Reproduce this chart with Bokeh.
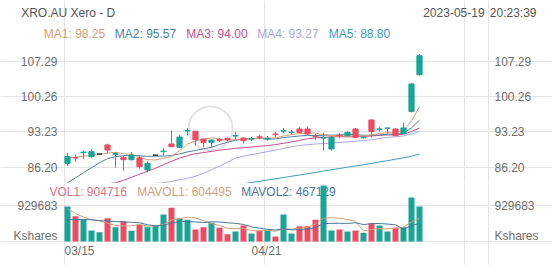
from bokeh.plotting import figure
from bokeh.layouts import column
from bokeh.models import Range1d, FixedTicker, ColumnDataSource
from bokeh.core.properties import value
from bokeh.embed import file_html
from bokeh.resources import INLINE

# ---------------- data ----------------
dates = ["03/15", "03/16", "03/17", "03/20", "03/21", "03/22", "03/23", "03/24", "03/27", "03/28",
         "03/29", "03/30", "03/31", "04/03", "04/04", "04/05", "04/06", "04/11", "04/12", "04/13",
         "04/14", "04/17", "04/18", "04/19", "04/20", "04/21", "04/24", "04/26", "04/27", "04/28",
         "05/01", "05/02", "05/03", "05/04", "05/05", "05/08", "05/09", "05/10", "05/11", "05/12",
         "05/15", "05/16", "05/17", "05/18", "05/19"]
open_ = [86.96, 88.10, 89.10, 88.30, 88.83, 90.62, 88.75, 88.15, 87.70, 88.04,
         85.65, 88.60, 89.30, 90.82, 90.15, 93.40, 93.37, 91.80, 91.14, 91.70,
         91.90, 92.40, 92.00, 91.80, 92.25, 91.85, 92.80, 93.40, 93.10, 93.81,
         93.81, 92.40, 92.00, 89.83, 92.60, 92.47, 93.81, 92.05, 95.60, 93.75,
         93.95, 93.81, 92.93, 97.31, 104.61]
high = [89.09, 88.69, 89.49, 89.70, 88.83, 90.88, 89.20, 88.40, 89.20, 88.50,
        87.30, 88.60, 90.03, 93.47, 92.60, 94.00, 93.47, 91.90, 91.67, 91.90,
        92.10, 93.27, 92.10, 92.30, 92.60, 92.40, 93.20, 94.00, 93.60, 94.20,
        94.30, 92.80, 93.07, 92.40, 93.00, 93.30, 94.00, 92.30, 95.70, 94.20,
        94.03, 93.90, 95.06, 102.88, 108.73]
low = [86.50, 87.30, 87.90, 88.10, 88.83, 88.95, 86.10, 85.50, 87.50, 85.90,
       85.17, 88.60, 88.50, 90.28, 90.00, 92.50, 90.50, 90.10, 90.10, 91.20,
       91.40, 91.68, 90.88, 91.40, 91.70, 91.50, 92.20, 93.00, 92.70, 93.00,
       92.60, 91.70, 89.49, 89.49, 92.00, 92.30, 92.00, 91.90, 92.14, 93.30,
       92.85, 92.40, 92.80, 97.10, 104.40]
close = [88.29, 88.04, 89.20, 89.29, 88.83, 89.63, 88.90, 87.70, 88.63, 86.30,
         86.96, 88.60, 89.40, 90.28, 92.20, 93.50, 91.68, 91.14, 91.60, 91.55,
         91.70, 92.50, 91.48, 91.88, 92.14, 91.94, 92.67, 93.47, 93.17, 93.13,
         92.81, 92.27, 92.07, 92.14, 92.47, 93.13, 92.14, 92.14, 93.33, 93.81,
         94.00, 92.47, 94.01, 102.76, 108.39]
volume = [905000, 654000, 568000, 284000, 241000, 602000, 370000, 525000, 275000, 430000,
          370000, 413000, 697000, 869000, 602000, 560000, 310000, 370000, 482000, 353000,
          189000, 258000, 413000, 207000, 284000, 284000, 129000, 697000, 207000, 396000,
          396000, 560000, 1446000, 284000, 310000, 258000, 284000, 224000, 469000, 413000,
          258000, 353000, 370000, 1137000, 904716]
ma1 = [88.00, 88.20, 88.40, 88.60, 88.73, 89.00, 89.17, 88.87, 88.74, 88.23,
       87.70, 87.64, 87.98, 88.31, 89.49, 90.80, 91.41, 91.76, 92.02, 91.89,
       91.53, 91.70, 91.77, 91.82, 91.94, 91.99, 92.02, 92.42, 92.68, 92.88,
       93.05, 92.97, 92.69, 92.48, 92.35, 92.42, 92.39, 92.40, 92.64, 92.91,
       93.08, 93.15, 93.52, 95.41, 98.25]
ma2 = [83.10, 84.10, 85.10, 86.10, 87.10, 87.90, 88.30, 88.50, 88.60, 88.48,
       88.35, 88.40, 88.42, 88.52, 88.86, 89.25, 89.53, 89.87, 90.17, 90.69,
       91.17, 91.56, 91.76, 91.92, 91.92, 91.76, 91.86, 92.09, 92.25, 92.41,
       92.52, 92.50, 92.56, 92.58, 92.61, 92.73, 92.68, 92.55, 92.56, 92.63,
       92.75, 92.77, 92.96, 94.03, 95.57]
ma3 = [81.20, 81.60, 82.00, 82.40, 82.70, 82.90, 83.10, 83.60, 84.20, 84.80,
       85.40, 86.00, 86.70, 87.40, 88.00, 88.50, 88.90, 89.10, 89.35, 89.59,
       89.76, 89.98, 90.09, 90.22, 90.39, 90.50, 90.69, 90.98, 91.21, 91.55,
       91.84, 92.03, 92.16, 92.25, 92.27, 92.25, 92.27, 92.32, 92.41, 92.52,
       92.63, 92.63, 92.76, 93.30, 94.00]
ma4 = [78.50, 78.90, 79.30, 79.70, 80.10, 80.50, 80.90, 81.40, 81.90, 82.40,
       82.80, 83.00, 83.10, 83.40, 83.70, 84.00, 84.40, 85.00, 85.70, 86.40,
       87.20, 88.00, 88.40, 88.70, 89.00, 89.30, 89.60, 89.95, 90.25, 90.53,
       90.68, 90.82, 90.91, 91.01, 91.13, 91.25, 91.36, 91.50, 91.66, 91.91,
       92.14, 92.27, 92.43, 92.84, 93.27]
ma5 = [77.60, 77.85, 78.10, 78.35, 78.60, 78.85, 79.10, 79.35, 79.60, 79.85,
       80.10, 80.35, 80.60, 80.85, 81.10, 81.35, 81.60, 81.85, 82.00, 82.20,
       82.40, 82.65, 82.90, 83.15, 83.40, 83.65, 83.90, 84.15, 84.40, 84.65,
       84.90, 85.15, 85.45, 85.70, 85.95, 86.20, 86.45, 86.70, 86.95, 87.25,
       87.50, 87.80, 88.05, 88.40, 88.80]
mavol1 = [850000, 720000, 630000, 560000, 530400, 469800, 413000, 404400, 402600, 440400,
          394000, 402600, 437000, 555800, 590200, 628200, 607600, 542200, 464800, 415000,
          340800, 330400, 339000, 284000, 270200, 289200, 263400, 320200, 320200, 342600,
          365000, 451200, 601000, 616400, 599200, 571600, 516400, 272000, 309000, 329600,
          329600, 343400, 372600, 506200, 604495]
mavol2 = [560000, 565000, 570000, 560000, 540000, 530000, 515000, 505000, 495000, 485400,
          431900, 407800, 420700, 479200, 515300, 511100, 505100, 489600, 510300, 502600,
          484500, 469000, 440600, 374400, 342600, 315000, 296900, 329600, 302100, 306400,
          327100, 357300, 460600, 468300, 470900, 468300, 483800, 436500, 462700, 464400,
          450600, 429900, 322300, 407600, 467129]
price_ticks = [86.20, 93.23, 100.26, 107.29]
vol_tick = 929683
date_labels = ["03/15", "04/21"]
title_text = "XRO.AU Xero - D"
stamp_date = "2023-05-19"
stamp_time = "20:23:39"

# ---------------- styles / layout (pixels) ----------------
UP = "#17a596"
DOWN = "#ef4a62"
FLAT = "#333333"
C_MA = ["#d4a07c", "#4f7fa3", "#c2508e", "#aaa6df", "#3c9cbb"]
C_VOL = "#e8707e"
C_MAVOL1 = "#d4a07c"
C_MAVOL2 = "#4a7896"
GRID = "#e4e4e4"
TXT = "#6e6e6e"
HEAD = "#555555"
FONT = "Liberation Sans"
FS = "12px"

W, HA, HB = 552, 183, 82
X0, DX = 67.0, 8.0              # pixel of first candle, pixels per candle
FRAME_L, FRAME_R, FRAME_T, VOL_BASE = 64, 488, 25, 241
P_TOP = 119.37                  # price at the top edge of the price canvas
P_PER_PX = 1 / 5.0261
V_PER_PX = vol_tick / 36.0


def xi(px):
    return (px - X0) / DX


def ya(py):
    return P_TOP - py * P_PER_PX


def yb(py):  # py measured on the whole page
    return (VOL_BASE - py) * V_PER_PX


idx = list(range(len(dates)))
candle_col = [UP if c > o else (DOWN if c < o else FLAT) for o, c in zip(open_, close)]
vol_col = [DOWN if c < o else UP for o, c in zip(open_, close)]
src = ColumnDataSource(dict(
    x=idx, o=open_, h=high, l=low, c=close,
    top=[max(o, c) for o, c in zip(open_, close)],
    bot=[min(o, c) for o, c in zip(open_, close)],
    col=candle_col, vcol=vol_col, vol=volume,
    ma1=ma1, ma2=ma2, ma3=ma3, ma4=ma4, ma5=ma5, mv1=mavol1, mv2=mavol2))

i_apr = dates.index(date_labels[1])
grid_x = [xi(FRAME_L), i_apr - 0.375, i_apr + 25 - 0.375, xi(FRAME_R)]
x_range = Range1d(xi(0), xi(W))


def txt(p, xs, ys, texts, colors, align="left"):
    p.text(x=xs, y=ys, text=texts, text_color=colors, text_font=value(FONT),
           text_font_size=value(FS), text_align=align, text_baseline="middle")


def base_fig(h, yr):
    p = figure(width=W, height=h, output_backend="svg", toolbar_location=None,
               x_range=x_range, y_range=yr, min_border=0, min_border_left=0,
               min_border_right=0, min_border_top=0, min_border_bottom=0,
               title=None, x_axis_location=None, y_axis_location=None)
    p.outline_line_color = None
    p.background_fill_color = "white"
    p.border_fill_color = "white"
    for g in (p.xgrid, p.ygrid):
        g.grid_line_color = GRID
        g.grid_line_width = 1
    p.xgrid.ticker = FixedTicker(ticks=grid_x)
    p.ygrid.bounds = (xi(FRAME_L), xi(FRAME_R))
    return p


# ---------------- price pane ----------------
pa = base_fig(HA, Range1d(ya(HA), ya(0)))
pa.xgrid.bounds = (ya(HA), ya(FRAME_T))
pa.ygrid.ticker = FixedTicker(ticks=price_ticks)

# watermark ring
pa.scatter(x=[xi(210)], y=[ya(128)], size=44, marker="circle", fill_color=None,
           line_color="#e3e3e3", line_width=2)

# header
txt(pa, [xi(20.7)], [ya(12)], [title_text], [HEAD])
txt(pa, [xi(422.7)], [ya(12)], [stamp_date], [HEAD], align="left")
txt(pa, [xi(536)], [ya(12)], [stamp_time], [HEAD], align="right")
# MA legend
mas = [ma1, ma2, ma3, ma4, ma5]
txt(pa, [xi(v) for v in (43.3, 114.3, 185.7, 256.7, 328.3)], [ya(33)] * 5,
    [f"MA{i + 1}: {m[-1]:.2f}" for i, m in enumerate(mas)], C_MA)
# price tick labels
lbl = [f"{t:.2f}" for t in price_ticks]
txt(pa, [xi(57)] * 4, price_ticks, lbl, [TXT] * 4, align="right")
txt(pa, [xi(494)] * 4, price_ticks, lbl, [TXT] * 4, align="left")

for k, col in zip(["ma5", "ma4", "ma3", "ma2", "ma1"], C_MA[::-1]):
    pa.line("x", k, source=src, line_color=col, line_width=1)
pa.segment(x0="x", y0="l", x1="x", y1="h", source=src, line_color="col", line_width=1)
pa.vbar(x="x", width=0.65, top="top", bottom="bot", source=src,
        fill_color="col", line_color="col", line_width=1)

# ---------------- volume pane ----------------
pb = base_fig(HB, Range1d(yb(HA + HB), yb(HA)))
pb.xgrid.bounds = (0, yb(HA))
pb.ygrid.ticker = FixedTicker(ticks=[0, vol_tick])

txt(pb, [xi(49), xi(136.7), xi(240.7)], [yb(191)] * 3,
    [f"VOL1: {volume[-1]}", f"MAVOL1: {mavol1[-1]}", f"MAVOL2: {mavol2[-1]}"],
    [C_VOL, C_MAVOL1, C_MAVOL2])
vl = [str(vol_tick), "Kshares"]
vy = [vol_tick, yb(235)]
txt(pb, [xi(57)] * 2, vy, vl, [TXT] * 2, align="right")
txt(pb, [xi(494)] * 2, vy, vl, [TXT] * 2, align="left")
txt(pb, [xi(FRAME_L)], [yb(250)], [date_labels[0]], [TXT], align="left")
txt(pb, [i_apr - 0.125], [yb(250)], [date_labels[1]], [TXT], align="center")

pb.vbar(x="x", width=0.75, top="vol", bottom=0, source=src, fill_color="vcol", line_color=None)
pb.line("x", "mv1", source=src, line_color=C_MAVOL1, line_width=1)
pb.line("x", "mv2", source=src, line_color=C_MAVOL2, line_width=1)

layout = column(pa, pb, spacing=0)
open("out.html", "w").write(file_html(layout, INLINE))
